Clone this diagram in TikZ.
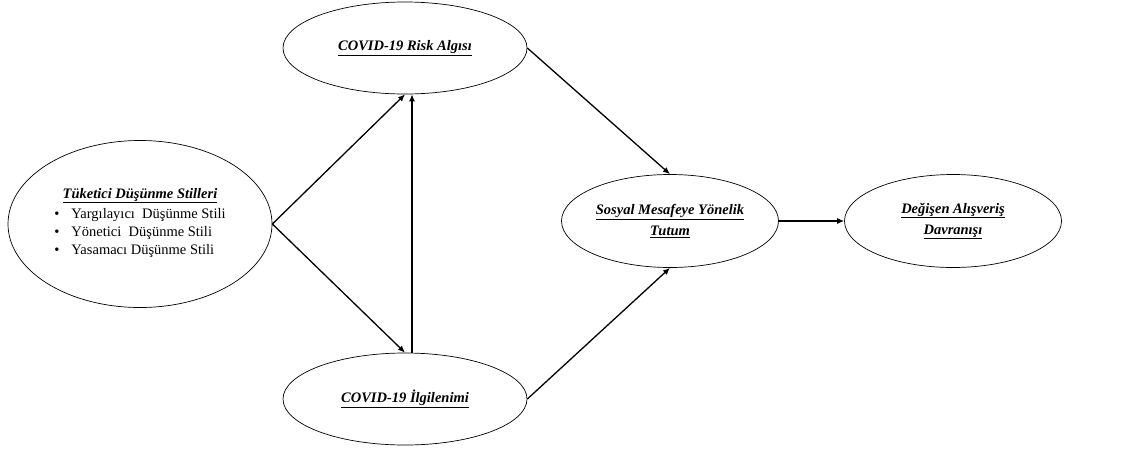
\documentclass[tikz,border=0pt]{standalone}
\usepackage{fontspec}
\setmainfont{Liberation Serif}
\usetikzlibrary{shapes.geometric,arrows.meta}

\begin{document}
\begin{tikzpicture}[x=1pt, y=-1pt, font=\fontsize{14.5}{19}\selectfont,
    construct/.style={draw, ellipse, line width=0.7pt, inner sep=0pt, align=center},
    path/.style={line width=1.3pt, -{Latex[length=7pt,width=6pt]}}]
\useasboundingbox (0,0) rectangle (1123,448);
\node[construct, minimum width=264pt, minimum height=167pt] (stil) at (140,224) {\underline{\textbf{\textit{Tüketici Düşünme Stilleri}}}\\[1pt]
    \begin{tabular}{@{}l@{\hspace{12pt}}l@{}}
    \textbullet & Yargılayıcı\ \ Düşünme Stili\\[-1pt]
    \textbullet & Yönetici\ \ Düşünme Stili\\[-1pt]
    \textbullet & Yasamacı Düşünme Stili
    \end{tabular}};
\node[construct, minimum width=244pt, minimum height=92pt] (risk) at (405,48) {\underline{\textbf{\textit{COVID-19 Risk Algısı}}}};
\node[construct, minimum width=244pt, minimum height=92pt] (ilgi) at (405,399) {\underline{\textbf{\textit{COVID-19 İlgilenimi}}}};
\node[construct, minimum width=217pt, minimum height=93pt] (tutum) at (670,221) {\underline{\textbf{\textit{Sosyal Mesafeye Yönelik}}}\\[2pt] \underline{\textbf{\textit{Tutum}}}};
\node[construct, minimum width=217pt, minimum height=93pt] (davranis) at (953,221) {\underline{\textbf{\textit{Değişen Alışveriş}}}\\[2pt] \underline{\textbf{\textit{Davranışı}}}};
\draw[path] (stil.east) -- (risk.south);
\draw[path] (stil.east) -- (ilgi.north);
\draw[path] ([xshift=7pt]ilgi.north) -- ([xshift=7pt]risk.south);
\draw[path] (risk.east) -- (tutum.north);
\draw[path] (ilgi.east) -- (tutum.south);
\draw[path] (tutum.east) -- (davranis.west);
\end{tikzpicture}
\end{document}
